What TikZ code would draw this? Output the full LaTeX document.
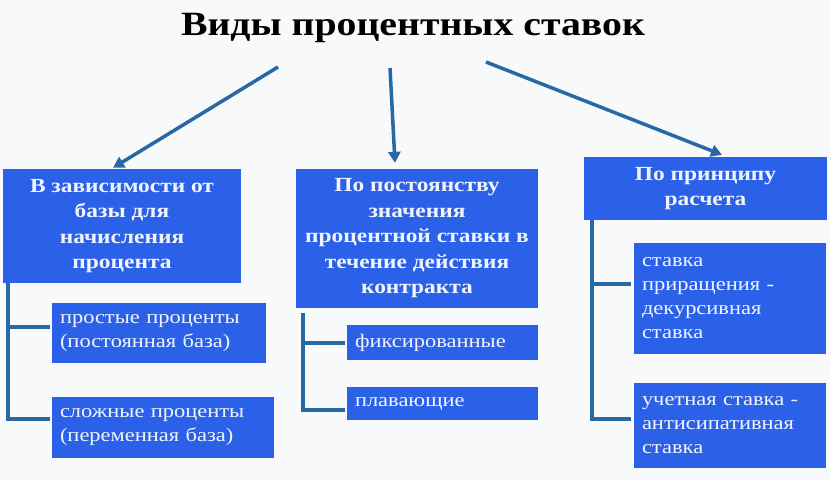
\documentclass[tikz,border=0pt]{standalone}
\usepackage{fontspec}
\setmainfont{Liberation Serif}[FakeStretch=1.17]
\usetikzlibrary{arrows.meta}
\definecolor{boxblue}{RGB}{43,97,232}
\definecolor{linecol}{RGB}{40,105,165}
\definecolor{bgcol}{RGB}{248,249,251}
\definecolor{txtcol}{RGB}{240,244,255}
\tikzset{
  mainbox/.style={fill=boxblue, text=txtcol, font=\bfseries\fontsize{20}{25.5}\selectfont, align=center, inner sep=0pt},
  subbox/.style={fill=boxblue, text=txtcol, font=\fontsize{19.2}{24}\selectfont, align=left, inner xsep=8pt, inner ysep=0pt},
  arr/.style={draw=linecol, line width=3.5pt, -{Triangle[length=11pt,width=12pt]}},
  tree/.style={draw=linecol, line width=4pt}
}
\begin{document}
\begin{tikzpicture}[x=1pt,y=-1pt]
\fill[bgcol] (0,0) rectangle (829,480);
\useasboundingbox (0,0) rectangle (829,480);
\node[font=\bfseries\fontsize{34}{40}\selectfont] (title) at (413,28) {Виды процентных ставок};
\node[mainbox, minimum width=238pt, minimum height=114pt] (b1) at (122,226) {В зависимости от\\базы для\\начисления\\процента};
\node[mainbox, minimum width=242pt, minimum height=139pt] (b2) at (417,238.5) {По постоянству\\значения\\процентной ставки в\\течение действия\\контракта};
\node[mainbox, minimum width=243pt, minimum height=63pt] (b3) at (705.5,188.5) {По принципу\\расчета};
\node[subbox, text width=198pt, minimum height=60pt] (s1a) at (159,333) {простые проценты\\(постоянная база)};
\node[subbox, text width=206pt, minimum height=61pt] (s1b) at (163,427.5) {сложные проценты\\(переменная база)};
\node[subbox, text width=175pt, minimum height=35pt] (s2a) at (442.5,342.5) {фиксированные};
\node[subbox, text width=175pt, minimum height=33pt] (s2b) at (442.5,403.5) {плавающие};
\node[subbox, text width=176pt, minimum height=111pt] (s3a) at (730,298.5) {ставка\\приращения -\\декурсивная\\ставка};
\node[subbox, text width=176pt, minimum height=85pt] (s3b) at (730,425.5) {учетная ставка -\\антисипативная\\ставка};
\coordinate (a1) at (278,67);
\coordinate (a2) at (390,68);
\coordinate (a3) at (486,62);
\draw[arr] (a1) -- ([xshift=-9pt,yshift=1pt]b1.north);
\draw[arr] (a2) -- ([xshift=-22pt,yshift=6pt]b2.north);
\draw[arr] (a3) -- ([xshift=16.5pt,yshift=2pt]b3.north);
\coordinate (t1) at ([xshift=5pt]b1.south west);
\coordinate (t2) at ([xshift=7pt,yshift=-5pt]b2.south west);
\coordinate (t3) at ([xshift=8pt]b3.south west);
\draw[tree] (t1) |- ([xshift=-2pt,yshift=6pt]s1a.west);
\draw[tree] (t1) |- ([xshift=-2pt,yshift=9pt]s1b.west);
\draw[tree] (t2) |- ([xshift=-2pt]s2a.west);
\draw[tree] (t2) |- ([xshift=-2pt,yshift=-6pt]s2b.west);
\draw[tree] (t3) |- ([xshift=-3pt,yshift=15pt]s3a.west);
\draw[tree] (t3) |- ([xshift=-3pt,yshift=7pt]s3b.west);
\end{tikzpicture}
\end{document}
